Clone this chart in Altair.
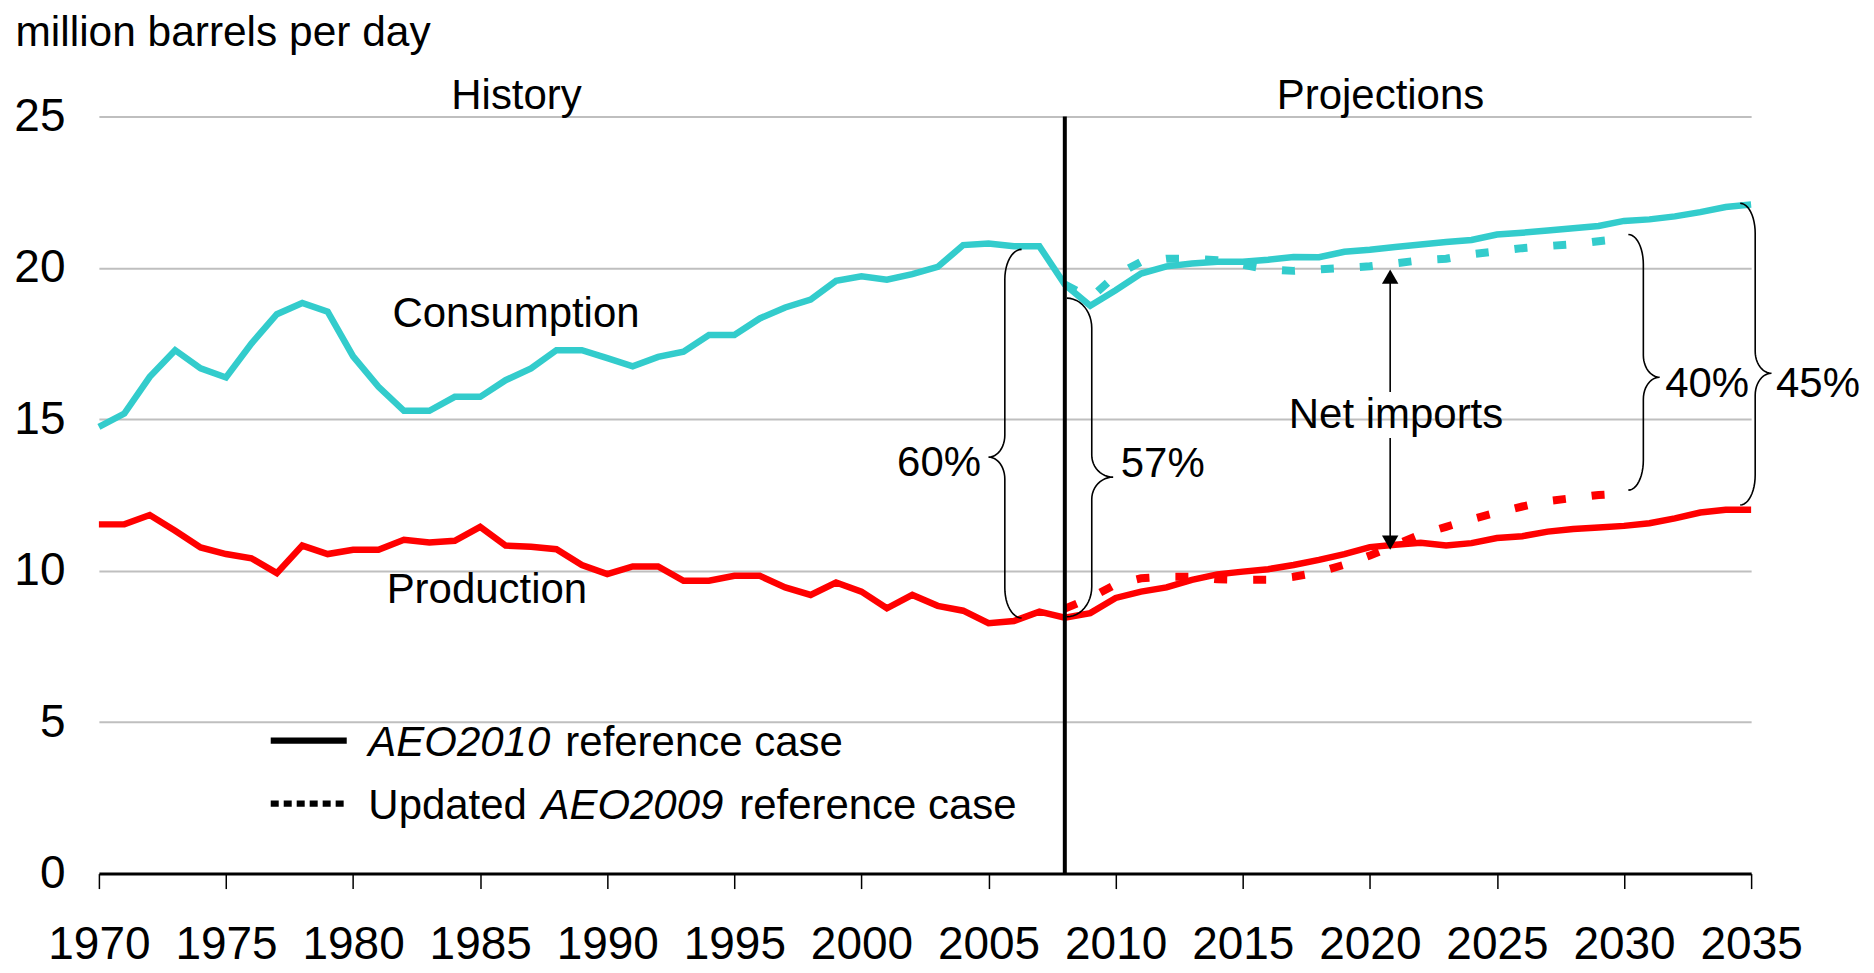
import math
import altair as alt
import pandas as pd

FONT = "Liberation Sans"
W, H = 1654, 758
X_MIN, X_MAX = 1970, 2035
Y_MIN, Y_MAX = 0, 25

CYAN = "#33CCCC"
RED = "#FF0000"

# ---------------- data ----------------
hist_years = list(range(1970, 2009))
hist_consumption = [14.75, 15.19, 16.40, 17.28, 16.68, 16.38, 17.50, 18.47, 18.84, 18.55,
                    17.08, 16.07, 15.28, 15.28, 15.74, 15.74, 16.29, 16.68, 17.28, 17.28,
                    17.02, 16.75, 17.06, 17.23, 17.78, 17.78, 18.33, 18.69, 18.95, 19.57,
                    19.72, 19.61, 19.79, 20.03, 20.75, 20.80, 20.71, 20.71, 19.45]
hist_production = [11.53, 11.53, 11.84, 11.32, 10.77, 10.55, 10.41, 9.92, 10.83, 10.55,
                   10.69, 10.69, 11.02, 10.93, 10.99, 11.45, 10.83, 10.79, 10.71, 10.19,
                   9.89, 10.14, 10.14, 9.67, 9.67, 9.83, 9.83, 9.45, 9.20, 9.61,
                   9.31, 8.76, 9.20, 8.84, 8.68, 8.27, 8.34, 8.65, 8.45]

proj_years = list(range(2009, 2036))
aeo2010_consumption = [18.75, 19.26, 19.81, 20.05, 20.14, 20.20, 20.20, 20.27, 20.36, 20.35,
                       20.53, 20.60, 20.69, 20.77, 20.85, 20.92, 21.10, 21.16, 21.23, 21.31,
                       21.38, 21.55, 21.60, 21.70, 21.84, 22.01, 22.09]
aeo2010_production = [8.60, 9.10, 9.31, 9.45, 9.70, 9.88, 9.97, 10.05, 10.19, 10.36,
                      10.55, 10.78, 10.86, 10.92, 10.83, 10.91, 11.08, 11.14, 11.29, 11.38,
                      11.43, 11.48, 11.57, 11.73, 11.92, 12.01, 12.01]

aeo2009_years = list(range(2008, 2031))
aeo2009_consumption = [19.45, 19.00, 19.75, 20.20, 20.30, 20.30, 20.25, 20.10, 19.95, 19.90,
                       19.95, 20.00, 20.05, 20.15, 20.25, 20.30, 20.45, 20.55, 20.65, 20.72,
                       20.78, 20.88, 20.97]
aeo2009_production = [8.75, 9.10, 9.55, 9.75, 9.80, 9.80, 9.72, 9.70, 9.70, 9.80,
                      9.95, 10.20, 10.50, 10.85, 11.20, 11.45, 11.70, 11.92, 12.12, 12.30,
                      12.40, 12.50, 12.55]

x_ticks = list(range(1970, 2036, 5))
y_ticks = [0, 5, 10, 15, 20, 25]
divider_year = 2008

# annotation texts (x in years, y in million barrels per day, baseline)
plain_left_text = ["Consumption", "Production", "60%", "57%", "40%", "45%",
                   "Updated", "reference case", "reference case"]
plain_left_x = [1981.55, 1981.32, 2001.4, 2010.2, 2031.62, 2035.98, 1980.6, 1988.35, 1995.19]
plain_left_y = [18.04, 8.94, 13.13, 13.09, 15.73, 15.73, 1.81, 3.89, 1.81]

center_text = ["History", "Projections", "Net imports"]
center_x = [1986.43, 2020.42, 2021.03]
center_y = [25.24, 25.24, 14.71]

italic_text = ["AEO2010", "AEO2009"]
italic_x = [1980.6, 1987.41]
italic_y = [3.89, 1.81]

# braces
brace_spine = [2005.64, 2009.06, 2030.76, 2035.16]
brace_tip = [2006.30, 2008.08, 2030.17, 2034.57]
brace_point = [2005.00, 2009.90, 2031.40, 2035.80]
brace_top = [20.61, 19.00, 21.10, 22.13]
brace_bottom = [8.44, 8.48, 12.66, 12.17]
brace_mid = [13.75, 13.09, 16.39, 16.52]

# net imports arrow
arrow_x = 2020.8
arrow_head_y = [19.71, 10.93]
arrow_head_shape = ["triangle-up", "triangle-down"]
arrow_shaft_top = [19.71, 14.38]
arrow_shaft_bottom = [15.90, 10.93]

# legend samples
legend_x = [1976.76, 1979.75]
legend_dot_x = [1976.76, 1979.63]
legend_solid_y = 4.39
legend_dot_y = 2.31

# ---------------- build tables ----------------
solid = pd.DataFrame({
    "x": hist_years + proj_years + hist_years + proj_years,
    "y": hist_consumption + aeo2010_consumption + hist_production + aeo2010_production,
    "s": ["c"] * (len(hist_years) + len(proj_years)) + ["p"] * (len(hist_years) + len(proj_years)),
})
dashed = pd.DataFrame({
    "x": aeo2009_years + aeo2009_years,
    "y": aeo2009_consumption + aeo2009_production,
    "s": ["c"] * len(aeo2009_years) + ["p"] * len(aeo2009_years),
})

px_per_unit = H / (Y_MAX - Y_MIN)


def brace_points(spine, tip, point, top, bottom, mid, ry_end_px=30.0, ry_mid_px=22.0, n=12):
    re = ry_end_px / px_per_unit
    rm = ry_mid_px / px_per_unit
    pts = []
    for k in range(n + 1):  # top hook
        t = math.radians(90 - 90 * k / n)
        pts.append((tip + (spine - tip) * math.cos(t), top - re + re * math.sin(t)))
    for k in range(n + 1):  # into the point
        t = math.radians(-90 * k / n)
        pts.append((point + (spine - point) * math.cos(t), mid + rm + rm * math.sin(t)))
    for k in range(n + 1):  # out of the point
        t = math.radians(90 - 90 * k / n)
        pts.append((point + (spine - point) * math.cos(t), mid - rm + rm * math.sin(t)))
    for k in range(n + 1):  # bottom hook
        t = math.radians(-90 * k / n)
        pts.append((tip + (spine - tip) * math.cos(t), bottom + re + re * math.sin(t)))
    return pts


rows = []
for b in range(len(brace_spine)):
    pts = brace_points(brace_spine[b], brace_tip[b], brace_point[b],
                       brace_top[b], brace_bottom[b], brace_mid[b])
    for i, (px, py) in enumerate(pts):
        rows.append({"x": px, "y": py, "b": b, "i": i})
braces = pd.DataFrame(rows)

# ---------------- encodings ----------------
xscale = alt.Scale(domain=[X_MIN, X_MAX], nice=False, zero=False)
yscale = alt.Scale(domain=[Y_MIN, Y_MAX], nice=False, zero=True)
xaxis = alt.Axis(values=x_ticks, format="d", grid=False, title=None,
                 domainColor="black", domainWidth=3, tickColor="black", tickWidth=1.5,
                 tickSize=15, labelFont=FONT, labelFontSize=46, labelColor="black",
                 labelPadding=34, labelFlush=False, labelOverlap=False, zindex=1)
yaxis = alt.Axis(values=y_ticks, grid=True, gridColor="#BFBFBF", gridWidth=2,
                 domain=False, ticks=False, labelFont=FONT, labelFontSize=46,
                 labelColor="black", labelPadding=34,
                 title="million barrels per day", titleFont=FONT, titleFontSize=42.5,
                 titleFontWeight="normal", titleColor="black", titleAngle=0,
                 titleAlign="left", titleBaseline="alphabetic", titleX=-84, titleY=-71)


def X(f="x"):
    return alt.X(f"{f}:Q", scale=xscale, axis=xaxis)


def Y(f="y"):
    return alt.Y(f"{f}:Q", scale=yscale, axis=yaxis)


color = alt.Color("s:N", scale=alt.Scale(domain=["c", "p"], range=[CYAN, RED]), legend=None)

solid_lines = alt.Chart(solid).mark_line(strokeWidth=6.5).encode(x=X(), y=Y(), color=color)
dashed_lines = alt.Chart(dashed).mark_line(strokeWidth=8, strokeDash=[13, 26]).encode(
    x=X(), y=Y(), color=color)

divider = alt.Chart(pd.DataFrame({"x": [divider_year], "y": [Y_MIN], "y2": [Y_MAX]})).mark_rule(
    color="black", strokeWidth=4).encode(x=X(), y=Y(), y2="y2:Q")

brace_layer = alt.Chart(braces).mark_line(color="black", strokeWidth=1.6).encode(
    x=X(), y=Y(), detail="b:N", order="i:Q")

shafts = alt.Chart(pd.DataFrame({"x": [arrow_x, arrow_x], "y": arrow_shaft_top,
                                 "y2": arrow_shaft_bottom})).mark_rule(
    color="black", strokeWidth=1.6).encode(x=X(), y=Y(), y2="y2:Q")
heads = alt.Chart(pd.DataFrame({"x": [arrow_x, arrow_x], "y": arrow_head_y,
                                "shape": arrow_head_shape})).mark_point(
    filled=True, size=270, color="black", opacity=1).encode(
    x=X(), y=Y(), shape=alt.Shape("shape:N", scale=None))

text_left = alt.Chart(pd.DataFrame({"x": plain_left_x, "y": plain_left_y, "t": plain_left_text})).mark_text(
    font=FONT, fontSize=42, align="left", baseline="alphabetic", color="black").encode(
    x=X(), y=Y(), text="t:N")
text_center = alt.Chart(pd.DataFrame({"x": center_x, "y": center_y, "t": center_text})).mark_text(
    font=FONT, fontSize=42, align="center", baseline="alphabetic", color="black").encode(
    x=X(), y=Y(), text="t:N")
text_italic = alt.Chart(pd.DataFrame({"x": italic_x, "y": italic_y, "t": italic_text})).mark_text(
    font=FONT, fontSize=42, fontStyle="italic", align="left", baseline="alphabetic",
    color="black").encode(x=X(), y=Y(), text="t:N")

legend_solid = alt.Chart(pd.DataFrame({"x": [legend_x[0]], "x2": [legend_x[1]],
                                       "y": [legend_solid_y]})).mark_rule(
    color="black", strokeWidth=6.5).encode(x=X(), x2="x2:Q", y=Y())
legend_dot = alt.Chart(pd.DataFrame({"x": [legend_dot_x[0]], "x2": [legend_dot_x[1]],
                                     "y": [legend_dot_y]})).mark_rule(
    color="black", strokeWidth=6.5, strokeDash=[8, 5]).encode(x=X(), x2="x2:Q", y=Y())

chart = alt.layer(
    solid_lines, dashed_lines, divider, brace_layer, shafts, heads,
    text_left, text_center, text_italic, legend_solid, legend_dot,
).properties(
    width=W, height=H,
    padding={"left": 91, "top": 108, "right": 115, "bottom": 98},
    autosize=alt.AutoSizeParams(type="none"),
    background="white",
).configure_view(strokeWidth=0)

chart.save("out.html", embed_options={"renderer": "svg", "actions": False})
